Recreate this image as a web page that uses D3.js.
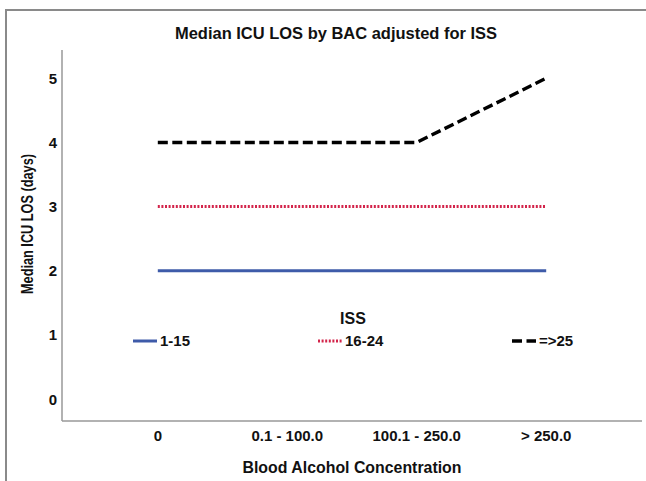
<!DOCTYPE html>
<html>
<head>
<meta charset="utf-8">
<script src="https://cdn.jsdelivr.net/npm/d3@7/dist/d3.min.js"></script>
<style>
  body { margin: 0; background: #fff; }
  svg { display: block; font-family: "Liberation Sans", Arial, sans-serif; }
</style>
</head>
<body>
<svg id="chart" width="646" height="481"></svg>
<script>
// categories and medians
var bacGroups = ["0", "0.1 - 100.0", "100.1 - 250.0", "> 250.0"];
var issGroups = ["1-15", "16-24", "=>25"];
var los_1_15 = [2, 2, 2, 2];
var los_16_24 = [3, 3, 3, 3];
var los_25 = [4, 4, 4, 5];
var yTicks = [0, 1, 2, 3, 4, 5];

var series = [
    {name: issGroups[0], values: los_1_15, color: "#3e5ba9", dash: null, w: 3},
    {name: issGroups[1], values: los_16_24, color: "#d3244a", dash: "2,1.6", w: 3},
    {name: issGroups[2], values: los_25, color: "#000", dash: "10,4.5", w: 3.4}
];

var svg = d3.select("#chart");

// outer frame (right and bottom fall outside the picture)
svg.append("path")
    .attr("d", "M6,481 V10 H646")
    .attr("fill", "none")
    .attr("stroke", "#8a8a8a")
    .attr("stroke-width", 2);

var x = d3.scalePoint().domain(bacGroups).range([62, 642]).padding(0.74);
var y = d3.scaleLinear().domain([-0.34, 5.44]).range([421, 50]);

// axes
svg.append("line")
    .attr("x1", 62).attr("x2", 62)
    .attr("y1", y(5.44)).attr("y2", y(-0.34))
    .attr("stroke", "#999").attr("stroke-width", 1.5);
svg.append("line")
    .attr("x1", 62).attr("x2", 642)
    .attr("y1", y(-0.34)).attr("y2", y(-0.34))
    .attr("stroke", "#999").attr("stroke-width", 1.5);

svg.selectAll(".ytick")
    .data(yTicks)
    .enter()
    .append("text")
    .attr("class", "ytick")
    .attr("x", 57)
    .attr("y", function(d){ return y(d); })
    .attr("dy", "0.36em")
    .attr("text-anchor", "end")
    .attr("font-size", 15)
    .attr("font-weight", "bold")
    .attr("fill", "#111")
    .text(function(d){ return d; });

svg.selectAll(".xtick")
    .data(bacGroups)
    .enter()
    .append("text")
    .attr("class", "xtick")
    .attr("x", function(d){ return x(d); })
    .attr("y", 441)
    .attr("text-anchor", "middle")
    .attr("font-size", 15)
    .attr("font-weight", "bold")
    .attr("fill", "#111")
    .text(function(d){ return d; });

// titles
svg.append("text")
    .attr("x", 336).attr("y", 39)
    .attr("text-anchor", "middle")
    .attr("font-size", 17).attr("font-weight", "bold")
    .attr("textLength", 322).attr("lengthAdjust", "spacingAndGlyphs")
    .attr("fill", "#111")
    .text("Median ICU LOS by BAC adjusted for ISS");

svg.append("text")
    .attr("x", 352).attr("y", 473)
    .attr("text-anchor", "middle")
    .attr("font-size", 17).attr("font-weight", "bold")
    .attr("textLength", 219).attr("lengthAdjust", "spacingAndGlyphs")
    .attr("fill", "#111")
    .text("Blood Alcohol Concentration");

svg.append("text")
    .attr("transform", "translate(33,224) rotate(-90)")
    .attr("text-anchor", "middle")
    .attr("font-size", 16).attr("font-weight", "bold")
    .attr("textLength", 140).attr("lengthAdjust", "spacingAndGlyphs")
    .attr("fill", "#111")
    .text("Median ICU LOS (days)");

// lines
var line = d3.line()
    .x(function(d, i){ return x(bacGroups[i]); })
    .y(function(d){ return y(d); });

svg.selectAll(".series")
    .data(series)
    .enter()
    .append("path")
    .attr("class", "series")
    .attr("d", function(d){ return line(d.values); })
    .attr("fill", "none")
    .attr("stroke", function(d){ return d.color; })
    .attr("stroke-width", function(d){ return d.w; })
    .attr("stroke-dasharray", function(d){ return d.dash; });

// legend
svg.append("text")
    .attr("x", 353).attr("y", 324)
    .attr("text-anchor", "middle")
    .attr("font-size", 16).attr("font-weight", "bold")
    .attr("fill", "#111")
    .text("ISS");

var legendX = [133, 318, 512];
var item = svg.selectAll(".legend")
    .data(series)
    .enter()
    .append("g")
    .attr("class", "legend")
    .attr("transform", function(d, i){ return "translate(" + legendX[i] + ",341)"; });

item.append("line")
    .attr("x1", 0).attr("x2", 24)
    .attr("stroke", function(d){ return d.color; })
    .attr("stroke-width", function(d){ return d.w; })
    .attr("stroke-dasharray", function(d){ return d.dash; });

item.append("text")
    .attr("x", 27)
    .attr("dy", "0.36em")
    .attr("font-size", 15).attr("font-weight", "bold")
    .attr("fill", "#111")
    .text(function(d){ return d.name; });
</script>
</body>
</html>
